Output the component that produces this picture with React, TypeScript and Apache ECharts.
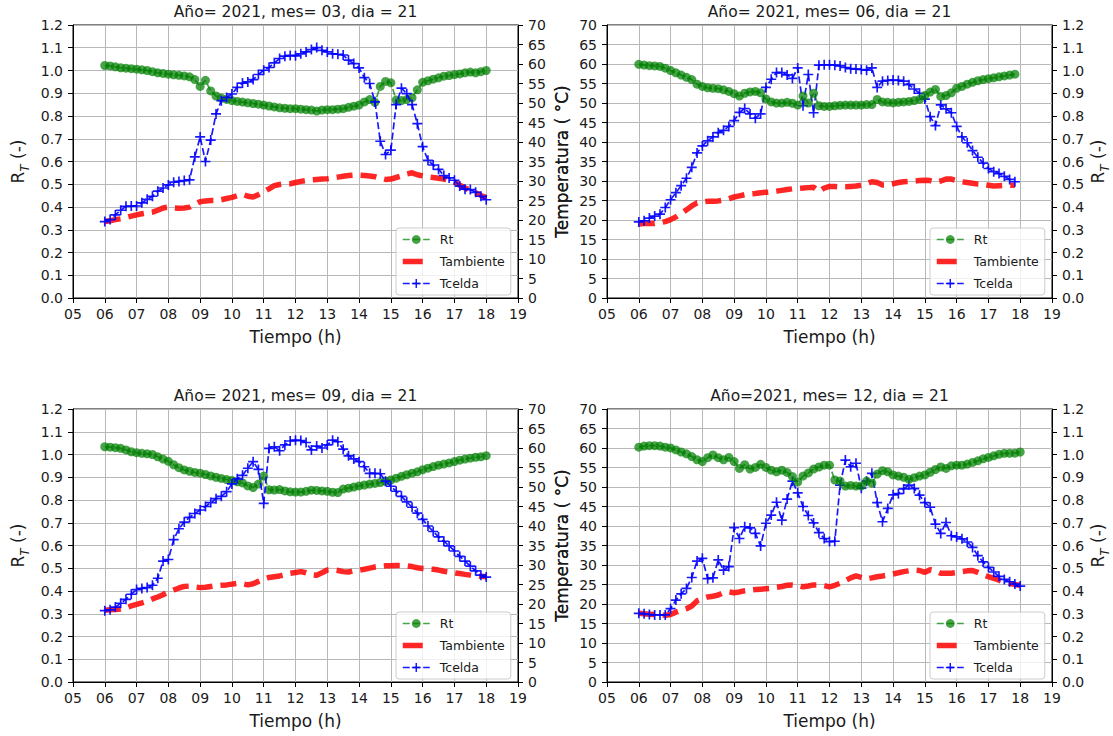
import React, { useEffect, useRef } from "react";
import * as echarts from "echarts";

// sampling times (h), every 10 minutes
const TIME = [
  6, 6.167, 6.333, 6.5, 6.667, 6.833,
  7, 7.167, 7.333, 7.5, 7.667, 7.833,
  8, 8.167, 8.333, 8.5, 8.667, 8.833,
  9, 9.167, 9.333, 9.5, 9.667, 9.833,
  10, 10.167, 10.333, 10.5, 10.667, 10.833,
  11, 11.167, 11.333, 11.5, 11.667, 11.833,
  12, 12.167, 12.333, 12.5, 12.667, 12.833,
  13, 13.167, 13.333, 13.5, 13.667, 13.833,
  14, 14.167, 14.333, 14.5, 14.667, 14.833,
  15, 15.167, 15.333, 15.5, 15.667, 15.833,
  16, 16.167, 16.333, 16.5, 16.667, 16.833,
  17, 17.167, 17.333, 17.5, 17.667, 17.833,
  18,
];

const X_TICKS = ["05", "06", "07", "08", "09", "10", "11", "12", "13", "14", "15", "16", "17", "18", "19"];

// ---- Panel 1: 2021-03-21
const P1_RT = [
  1.022, 1.02, 1.016, 1.012, 1.01, 1.008,
  1.006, 1.003, 1.0, 0.995, 0.99, 0.987,
  0.984, 0.981, 0.979, 0.976, 0.972, 0.96,
  0.93, 0.957, 0.91, 0.888, 0.879, 0.873,
  0.868, 0.864, 0.861, 0.858, 0.855, 0.852,
  0.848, 0.844, 0.84, 0.836, 0.834, 0.832,
  0.832, 0.83, 0.828, 0.826, 0.822, 0.826,
  0.828, 0.828, 0.83, 0.832, 0.838, 0.843,
  0.848, 0.862, 0.872, 0.86, 0.93, 0.952,
  0.946, 0.87, 0.868, 0.872, 0.88, 0.915,
  0.948, 0.955, 0.962, 0.968, 0.975, 0.978,
  0.982, 0.985, 0.99, 0.993, 0.99, 0.995,
  1.0,
];
const P1_TAMB = [
  19.6, 19.8, 20.1, 20.3, 20.6, 21,
  21.3, 21.6, 21.8, 22, 22.5, 23.1,
  23.3, 23.1, 23, 23.1, 23.3, 24,
  24.7, 24.9, 25, 25, 25.2, 25.5,
  25.8, 26.2, 26.6, 26.1, 25.9, 26.5,
  27.2, 28, 28.8, 29.1, 29.3, 29.3,
  29.6, 29.9, 30.1, 30.3, 30.4, 30.5,
  30.6, 30.8, 31, 31.2, 31.4, 31.5,
  31.5, 31.4, 31.3, 31.1, 30.7, 30.4,
  30.5, 30.9, 31.3, 31.8, 32.1, 31.6,
  31.3, 31.1, 30.9, 30.7, 30.5, 30.2,
  29.8, 28.9, 28.2, 27.6, 27, 26.3,
  25.7,
];
const P1_TCELDA = [
  19.6, 20.1, 21.3, 22.5, 23.5, 23.6,
  23.6, 24.4, 25.3, 26.1, 27.4, 28.2,
  29, 29.7, 29.9, 30.1, 30.3, 36.2,
  41.3, 35, 40.5, 47.2, 50.6, 51.4,
  52.3, 54, 55.1, 55.4, 56, 57.3,
  58.4, 59.1, 60.3, 61.4, 62, 62.2,
  62.1, 62.6, 63.1, 63.7, 64.2, 63.5,
  63.1, 62.6, 62.5, 62.3, 61, 60.1,
  59, 56.5, 55, 50.3, 40.2, 36.8,
  37.9, 49.6, 53.8, 52.4, 49.6, 44.7,
  38.8, 35.3, 34.1, 33, 31.4, 30.8,
  30.2, 28.7, 27.9, 27.8, 27.1, 26.1,
  25.2,
];

// ---- Panel 2: 2021-06-21
const P2_RT = [
  1.027, 1.024, 1.021, 1.02, 1.018, 1.01,
  1.0, 0.99, 0.98, 0.97, 0.96, 0.94,
  0.93, 0.924, 0.922, 0.92, 0.915, 0.908,
  0.898, 0.888, 0.9, 0.906, 0.908, 0.902,
  0.875, 0.862, 0.857, 0.857, 0.86, 0.856,
  0.848, 0.888, 0.857, 0.9, 0.845, 0.842,
  0.842, 0.845, 0.847, 0.848, 0.848, 0.848,
  0.848, 0.85, 0.85, 0.873, 0.862, 0.86,
  0.858, 0.86, 0.862, 0.864, 0.868, 0.873,
  0.89, 0.905, 0.917, 0.886, 0.89, 0.902,
  0.922, 0.93, 0.94, 0.948, 0.955, 0.96,
  0.964, 0.968, 0.972, 0.976, 0.98, 0.984,
];
const P2_TAMB = [
  19, 19.1, 19.1, 19.1, 19.3, 19.6,
  20.1, 20.8, 21.7, 22.6, 23.6, 24.4,
  24.6, 24.8, 24.8, 24.9, 25.1, 25.5,
  25.9, 26.2, 26.5, 26.7, 26.8, 27,
  27.1, 27.2, 27.4, 27.6, 27.8, 28,
  28.1, 28.2, 28.3, 28.4, 27.3, 28.2,
  28.6, 28.6, 28.5, 28.5, 28.6, 28.7,
  28.9, 29.3, 29.8, 29.6, 29, 29,
  29.3, 29.6, 29.8, 29.9, 30, 30.1,
  30.2, 30.1, 29.7, 30, 30.5, 30.5,
  30.1, 29.8, 29.6, 29.4, 29.2, 29.1,
  28.9, 28.7, 28.8, 28.9, 28.9, 28.9,
];
const P2_TCELDA = [
  19.5, 19.8, 20.5, 21, 21.5, 23.2,
  25.2, 27, 28.8, 30.7, 33.5, 37.2,
  39, 40.3, 41.3, 42.4, 43, 44,
  45.5, 47.6, 48.6, 47.2, 46.1, 47.2,
  54, 56.1, 57.8, 57.8, 57.2, 56.3,
  59, 49.3, 57.3, 47.5, 59.7, 59.8,
  59.8, 59.7, 59.5, 59.1, 58.8, 58.7,
  58.6, 58.4, 59, 54, 55.6, 55.8,
  55.9, 55.8, 55.6, 54.7, 53.6, 52.5,
  51, 46.5, 44.2, 49.5, 48.5, 47.5,
  44, 41.3, 39.8, 37.8, 36.1, 34.6,
  33.2, 32.4, 31.9, 31.2, 30.4, 29.8,
];

// ---- Panel 3: 2021-09-21
const P3_RT = [
  1.034, 1.032, 1.03, 1.027, 1.02, 1.012,
  1.008, 1.005, 1.003, 1.0, 0.99, 0.98,
  0.97, 0.955, 0.942, 0.932, 0.926, 0.921,
  0.918, 0.912, 0.906, 0.9, 0.895, 0.89,
  0.886, 0.88, 0.875, 0.862, 0.855, 0.87,
  0.905, 0.845, 0.844, 0.846, 0.84, 0.836,
  0.835, 0.835, 0.838, 0.843, 0.842, 0.84,
  0.838, 0.834, 0.833, 0.848, 0.852, 0.857,
  0.862, 0.866, 0.87, 0.873, 0.877, 0.882,
  0.888, 0.896, 0.904, 0.911, 0.918, 0.924,
  0.933, 0.94, 0.947, 0.953, 0.958, 0.963,
  0.969, 0.975, 0.98, 0.984, 0.988, 0.99,
  0.995,
];
const P3_TAMB = [
  18.4, 18.5, 18.6, 18.7, 19, 19.5,
  19.9, 20.3, 20.7, 21.3, 21.8, 22.4,
  23, 23.6, 24.1, 24.5, 24.6, 24.4,
  24.2, 24.3, 24.5, 24.7, 24.8, 24.9,
  25.1, 25.3, 25.2, 24.9, 25.2, 25.8,
  26.4, 26.8, 27, 27.2, 27.5, 27.9,
  28.1, 28.3, 28, 27.5, 27.4, 28,
  28.7, 28.8, 28.6, 28.3, 28.2, 28.5,
  28.7, 28.9, 29.2, 29.5, 29.7, 29.8,
  29.8, 29.9, 29.9, 29.8, 29.6, 29.3,
  29.1, 29, 28.9, 28.7, 28.4, 28.2,
  28, 27.8, 27.6, 27.4, 27.2, 27.1,
  27,
];
const P3_TCELDA = [
  18.3, 18.5, 19.2, 20.2, 21.2, 22.5,
  23.7, 24, 24.2, 24.8, 26.6, 31,
  31.4, 36.5, 39.3, 41, 42.2, 43.2,
  44.1, 45, 46, 47, 47.6, 48.8,
  50.8, 52.1, 53, 54.8, 56.5, 54.5,
  45.8, 59.9, 60.3, 59.3, 60.8, 61.8,
  62, 61.9, 61.4, 59.5, 60.5, 60,
  60.8, 62, 61.6, 59.7, 58, 57.2,
  56.5, 55.2, 53.5, 53.5, 53.4, 51.5,
  50.2, 48.9, 47.6, 46.2, 44.8, 43.3,
  41.7, 40, 38.6, 37.2, 36.1, 34.9,
  33.6, 32.2, 31, 29.7, 28.5, 27.4,
  26.9,
];

// ---- Panel 4: 2021-12-21
const P4_RT = [
  1.032, 1.037, 1.039, 1.039, 1.037, 1.032,
  1.029, 1.02, 1.011, 1.003, 0.991, 0.977,
  0.969, 0.986, 0.998, 0.986, 0.977, 0.987,
  0.969, 0.939, 0.955, 0.936, 0.943, 0.957,
  0.943, 0.931, 0.924, 0.931, 0.921, 0.903,
  0.879, 0.905, 0.919, 0.936, 0.945, 0.953,
  0.953, 0.888, 0.883, 0.861, 0.864, 0.861,
  0.862, 0.883, 0.874, 0.914, 0.929, 0.924,
  0.91, 0.905, 0.9, 0.891, 0.898, 0.905,
  0.91, 0.922, 0.934, 0.945, 0.939, 0.95,
  0.953, 0.953, 0.958, 0.965, 0.972, 0.981,
  0.987, 0.994, 1.001, 1.005, 1.005, 1.006,
  1.011,
];
const P4_TAMB = [
  17.6, 17.5, 17.4, 17.3, 17.2, 17.1,
  17.3, 17.9, 18.4, 18.8, 19.5, 20.8,
  21.4, 21.8, 22, 22.3, 22.9, 23.1,
  22.9, 23.1, 23.4, 23.6, 23.7, 23.8,
  23.9, 24, 24.3, 24.5, 24.8, 24.9,
  24.8, 24.4, 24.6, 24.9, 24.9, 24.7,
  24.4, 24.8, 25.3, 26, 26.7, 27.2,
  26.8, 26.4, 26.7, 27, 27.2, 27.4,
  27.7, 28, 28.3, 28.5, 28.7, 28.6,
  28.1, 28.8, 28.5, 27.9, 27.9, 27.9,
  28.1, 28.3, 28.5, 28.6, 28.1, 27.5,
  27, 26.6, 26.1, 25.6, 25.3, 25,
  24.8,
];
const P4_TCELDA = [
  17.6, 17.5, 17.3, 17.2, 17.2, 17.2,
  18.8, 21, 22.6, 24, 26.8, 31,
  31.7, 26.5, 26.7, 31.3, 28.7, 29.6,
  39.6, 36.8, 39.8, 39.5, 38.1, 34.9,
  40.7, 42.8, 46.1, 41.5, 46.9, 51.5,
  48.5, 45, 42.7, 40.8, 38.3, 36.8,
  36, 36.1, 50.5, 56.9, 55.2, 56.1,
  49.7, 51.5, 53.5, 46, 41.1, 44.5,
  48, 48.3, 49.5, 50.5, 49.6, 47.9,
  46, 44.8, 40.5, 38.1, 40.9, 37.5,
  37.2, 36.7, 35.9, 34.5, 32.4, 30.8,
  29.4, 28.2, 27.1, 26.3, 25.7, 25.1,
  24.6,
];

const TITLES = [
  "Año= 2021, mes= 03, dia = 21",
  "Año= 2021, mes= 06, dia = 21",
  "Año= 2021, mes= 09, dia = 21",
  "Año=2021, mes= 12, dia = 21",
];
const LEGEND_NAMES = ["Rt", "Tambiente", "Tcelda"];

// ---------- layout / style ----------
const FONT = "DejaVu Sans";
const TXT = "#1a1a1a";
const PW = 445;
const PH = 273;
const PANELS = [
  { x: 73, y: 25, rtLeft: true, rt: P1_RT, tamb: P1_TAMB, tcel: P1_TCELDA },
  { x: 607, y: 25, rtLeft: false, rt: P2_RT, tamb: P2_TAMB, tcel: P2_TCELDA },
  { x: 73, y: 409, rtLeft: true, rt: P3_RT, tamb: P3_TAMB, tcel: P3_TCELDA },
  { x: 607, y: 409, rtLeft: false, rt: P4_RT, tamb: P4_TAMB, tcel: P4_TCELDA },
];

const PLUS = "path://M5,0h2v5h5v2h-5v5h-2v-5h-5v-2h5z";

function pairs(vals: number[]) {
  return vals.map((v, i) => [TIME[i], v]);
}

function buildOption() {
  const grid: any[] = [];
  const xAxis: any[] = [];
  const yAxis: any[] = [];
  const series: any[] = [];
  const legend: any[] = [];
  const graphic: any[] = [];

  const tickCommon = {
    axisLine: { show: true, onZero: false, lineStyle: { color: "#000", width: 1 } },
    axisTick: { show: true, inside: false, length: 5, lineStyle: { color: "#000", width: 1 } },
  };

  PANELS.forEach((p, i) => {
    grid.push({
      left: p.x, top: p.y, width: PW, height: PH,
      show: true, borderColor: "#000", borderWidth: 1, backgroundColor: "#fff",
    });
    xAxis.push({
      type: "value", gridIndex: i, min: 5, max: 19, interval: 1,
      ...tickCommon,
      axisLabel: {
        fontSize: 14, fontFamily: FONT, color: TXT, margin: 9,
        formatter: (v: number) => X_TICKS[Math.round(v) - 5],
      },
      splitLine: { show: true, lineStyle: { color: "#b8b8b8", width: 1 } },
      name: "Tiempo (h)", nameLocation: "middle", nameGap: 30,
      nameTextStyle: { fontSize: 17, fontFamily: FONT, color: TXT },
    });

    const rAxis: any = {
      type: "value", gridIndex: i, min: 0, max: 1.2, interval: 0.1,
      position: p.rtLeft ? "left" : "right",
      ...tickCommon,
      axisLabel: {
        fontSize: 14, fontFamily: FONT, color: TXT, margin: 10,
        formatter: (v: number) => v.toFixed(1),
      },
      splitLine: { show: p.rtLeft, lineStyle: { color: "#b8b8b8", width: 1 } },
      name: "{a|R}{b|T}{a| (-)}",
      nameLocation: "middle", nameRotate: 90,
      nameGap: p.rtLeft ? 44 : 37,
      nameTextStyle: {
        fontFamily: FONT, color: TXT,
        rich: {
          a: { fontSize: 17, fontFamily: FONT, color: TXT, lineHeight: 20, verticalAlign: "top" },
          b: { fontSize: 12, fontFamily: FONT, color: TXT, fontStyle: "italic", lineHeight: 12, padding: [10, 0, 0, 0], verticalAlign: "top" },
        },
      },
    };
    const tAxis: any = {
      type: "value", gridIndex: i, min: 0, max: 70, interval: 5,
      position: p.rtLeft ? "right" : "left",
      ...tickCommon,
      axisLabel: { fontSize: 14, fontFamily: FONT, color: TXT, margin: 10 },
      splitLine: { show: !p.rtLeft, lineStyle: { color: "#b8b8b8", width: 1 } },
      name: "Temperatura ( °C)",
      nameLocation: "middle", nameRotate: 90,
      nameGap: p.rtLeft ? 35 : 37,
      nameTextStyle: { fontSize: 17, fontFamily: FONT, color: TXT },
    };
    const rIdx = yAxis.length + (p.rtLeft ? 0 : 1);
    const tIdx = yAxis.length + (p.rtLeft ? 1 : 0);
    if (p.rtLeft) yAxis.push(rAxis, tAxis);
    else yAxis.push(tAxis, rAxis);

    const rtSeries = {
      type: "line", name: "Rt", xAxisIndex: i, yAxisIndex: rIdx,
      data: pairs(p.rt),
      symbol: "circle", symbolSize: 9,
      itemStyle: { color: "#008000", opacity: 0.72 },
      lineStyle: { color: "#008000", width: 1.7, type: [7, 3.2], opacity: 0.72 },
      z: p.rtLeft ? 2 : 4,
    };
    const tambSeries = {
      type: "line", name: "Tambiente", xAxisIndex: i, yAxisIndex: tIdx,
      data: pairs(p.tamb),
      symbol: "none",
      itemStyle: { color: "#ff0000" },
      lineStyle: { color: "#ff0000", width: 5.5, type: [16, 8], opacity: 0.85, cap: "butt" },
      z: p.rtLeft ? 3 : 2,
    };
    const tcelSeries = {
      type: "line", name: "Tcelda", xAxisIndex: i, yAxisIndex: tIdx,
      data: pairs(p.tcel),
      symbol: PLUS, symbolSize: 10,
      itemStyle: { color: "#0000ff", opacity: 0.9 },
      lineStyle: { color: "#0000ff", width: 1.7, type: [7, 3.2], opacity: 0.9 },
      z: p.rtLeft ? 3 : 2,
    };
    if (p.rtLeft) series.push(rtSeries, tambSeries, tcelSeries);
    else series.push(tambSeries, tcelSeries, rtSeries);

    legend.push({
      orient: "vertical",
      left: p.x + 323, top: p.y + 203,
      itemWidth: 27, itemHeight: 11, itemGap: 9,
      padding: [5, 6, 5, 4],
      borderColor: "#cccccc", borderWidth: 1, borderRadius: 3,
      backgroundColor: "rgba(255,255,255,0.8)",
      textStyle: { fontSize: 12.5, fontFamily: FONT, color: TXT, padding: [0, 0, 0, 5] },
      data: [
        { name: LEGEND_NAMES[0], lineStyle: { width: 1.7 } },
        { name: LEGEND_NAMES[1], itemStyle: { opacity: 0 }, lineStyle: { width: 5.5, type: [20, 20] } },
        { name: LEGEND_NAMES[2], lineStyle: { width: 1.7 } },
      ],
      selectedMode: false,
    });

    graphic.push({
      type: "text",
      x: p.x + PW / 2, y: p.y - 13,
      style: {
        text: TITLES[i], textAlign: "center", textVerticalAlign: "middle",
        fontSize: 15.5, fontFamily: FONT, fill: TXT,
      },
    });
  });

  return {
    animation: false,
    backgroundColor: "#fff",
    textStyle: { fontFamily: FONT },
    grid, xAxis, yAxis, series, legend, graphic,
  };
}

export default function App() {
  const ref = useRef<HTMLDivElement>(null);
  useEffect(() => {
    if (!ref.current) return;
    const chart = echarts.init(ref.current, undefined, { renderer: "svg" });
    chart.setOption(buildOption() as any);
    return () => chart.dispose();
  }, []);
  return (
    <div
      ref={ref}
      style={{ position: "absolute", left: 0, top: 0, width: 1113, height: 736, background: "#fff" }}
    />
  );
}
